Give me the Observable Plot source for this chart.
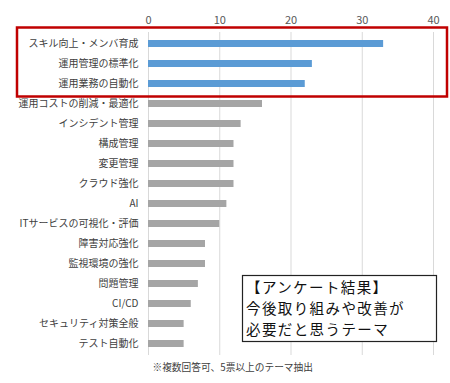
<!DOCTYPE html>
<html><head><meta charset="utf-8">
<script src="https://cdn.jsdelivr.net/npm/d3@7"></script>
<script src="https://cdn.jsdelivr.net/npm/@observablehq/plot@0.6"></script>
<style>
body{margin:0;background:#fff;}
#wrap{position:relative;width:450px;height:383px;}
</style></head>
<body><div id="wrap"></div>
<script>
const categories = ["スキル向上・メンバ育成","運用管理の標準化","運用業務の自動化","運用コストの削減・最適化","インシデント管理","構成管理","変更管理","クラウド強化","AI","ITサービスの可視化・評価","障害対応強化","監視環境の強化","問題管理","CI/CD","セキュリティ対策全般","テスト自動化"];
const votes = [33,23,22,16,13,12,12,12,11,10,8,8,7,6,5,5];
const highlighted = ["スキル向上・メンバ育成","運用管理の標準化","運用業務の自動化"];
const xTicks = [0,10,20,30,40];
const caption = "※複数回答可、5票以上のテーマ抽出";
const noteLines = ["【アンケート結果】","今後取り組みや改善が","必要だと思うテーマ"];

const data = categories.map((c,i)=>({cat:c, v:votes[i], hi: highlighted.includes(c)}));
const font = "'Noto Sans CJK JP', sans-serif";

const plot = Plot.plot({
  width:450, height:383,
  marginLeft:148, marginRight:17, marginTop:32, marginBottom:28,
  style:{fontFamily:font, background:"#fff"},
  x:{domain:[0,40], ticks:xTicks, label:null},
  y:{domain:categories, paddingInner:0.65, paddingOuter:0.325, label:null},
  marks:[
    Plot.gridX(xTicks,{stroke:"#D9D9D9", strokeOpacity:1, strokeWidth:1}),
    Plot.barX(data,{y:"cat", x:"v", fill:d=>d.hi?"#5B9BD5":"#A5A5A5"}),
    Plot.axisX({anchor:"top", ticks:xTicks, tickSize:0, tickPadding:9, fontSize:11, color:"#595959", label:null}),
    Plot.axisY({tickSize:0, tickPadding:10, fontSize:10, color:"#404040", label:null}),
    Plot.text([caption],{frameAnchor:"bottom-left", textAnchor:"start", dx:4, dy:15, fontSize:9.7, fill:"#404040"})
  ]
});
document.getElementById("wrap").appendChild(plot);

// highlight box around the top categories, from the y scale
const ys = plot.scale("y");
const svg = d3.select(plot);
const y1 = ys.apply(highlighted[0]) - 12.5;
const y2 = ys.apply(highlighted[highlighted.length-1]) + ys.bandwidth + 9.5;
svg.append("rect").attr("x",17).attr("y",y1).attr("width",430).attr("height",y2-y1)
  .attr("fill","none").attr("stroke","#C00000").attr("stroke-width",2.5);

// annotation box
const g = svg.append("g").attr("text-anchor","start");
g.append("rect").attr("x",242.5).attr("y",275.5).attr("width",194).attr("height",66)
  .attr("fill","#fff").attr("stroke","#222").attr("stroke-width",1.2);
noteLines.forEach((s,i)=>{
  g.append("text").attr("x",246).attr("y",292.5+i*21.3).text(s)
   .attr("text-anchor","start").attr("font-size",14.5).attr("letter-spacing",1.4)
   .attr("fill","#111").attr("font-family",font);
});
</script></body></html>
